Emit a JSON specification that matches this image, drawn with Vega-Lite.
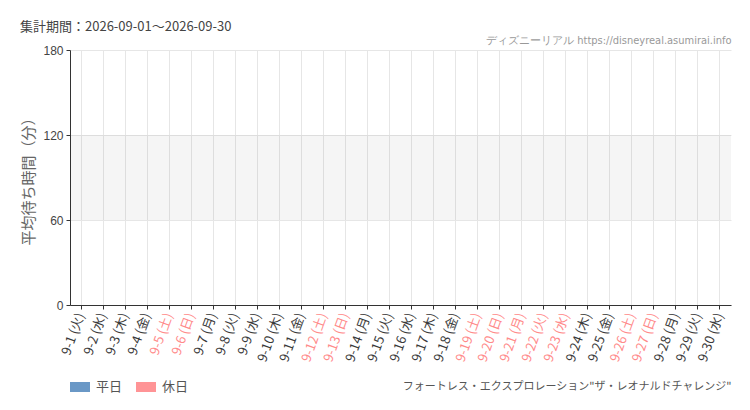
{
  "$schema": "https://vega.github.io/schema/vega-lite/v6.json",
  "width": 661,
  "height": 255,
  "autosize": "none",
  "padding": {"left": 70, "top": 50, "right": 19, "bottom": 105},
  "background": "#ffffff",
  "config": {
    "font": "Noto Sans CJK JP",
    "view": {"stroke": null}
  },
  "title": {
    "text": "集計期間：2026-09-01～2026-09-30",
    "anchor": "start",
    "frame": "group",
    "dx": -50,
    "offset": 0,
    "fontSize": 13,
    "fontWeight": "normal",
    "color": "#444444",
    "font": "Noto Sans CJK JP"
  },
  "datasets": {
    "days": [
      {"day": "9-1 (火)", "type": "平日", "wait": null},
      {"day": "9-2 (水)", "type": "平日", "wait": null},
      {"day": "9-3 (木)", "type": "平日", "wait": null},
      {"day": "9-4 (金)", "type": "平日", "wait": null},
      {"day": "9-5 (土)", "type": "休日", "wait": null},
      {"day": "9-6 (日)", "type": "休日", "wait": null},
      {"day": "9-7 (月)", "type": "平日", "wait": null},
      {"day": "9-8 (火)", "type": "平日", "wait": null},
      {"day": "9-9 (水)", "type": "平日", "wait": null},
      {"day": "9-10 (木)", "type": "平日", "wait": null},
      {"day": "9-11 (金)", "type": "平日", "wait": null},
      {"day": "9-12 (土)", "type": "休日", "wait": null},
      {"day": "9-13 (日)", "type": "休日", "wait": null},
      {"day": "9-14 (月)", "type": "平日", "wait": null},
      {"day": "9-15 (火)", "type": "平日", "wait": null},
      {"day": "9-16 (水)", "type": "平日", "wait": null},
      {"day": "9-17 (木)", "type": "平日", "wait": null},
      {"day": "9-18 (金)", "type": "平日", "wait": null},
      {"day": "9-19 (土)", "type": "休日", "wait": null},
      {"day": "9-20 (日)", "type": "休日", "wait": null},
      {"day": "9-21 (月)", "type": "休日", "wait": null},
      {"day": "9-22 (火)", "type": "休日", "wait": null},
      {"day": "9-23 (水)", "type": "休日", "wait": null},
      {"day": "9-24 (木)", "type": "平日", "wait": null},
      {"day": "9-25 (金)", "type": "平日", "wait": null},
      {"day": "9-26 (土)", "type": "休日", "wait": null},
      {"day": "9-27 (日)", "type": "休日", "wait": null},
      {"day": "9-28 (月)", "type": "平日", "wait": null},
      {"day": "9-29 (火)", "type": "平日", "wait": null},
      {"day": "9-30 (水)", "type": "平日", "wait": null}
    ],
    "band": [
      {"lo": 60, "hi": 120}
    ]
  },
  "layer": [
    {
      "data": {"name": "band"},
      "mark": {"type": "rect", "fill": "#000000", "fillOpacity": 0.04},
      "encoding": {
        "y": {"field": "lo", "type": "quantitative", "title": "平均待ち時間（分）"},
        "y2": {"field": "hi"}
      }
    },
    {
      "data": {"name": "days"},
      "mark": {"type": "bar"},
      "encoding": {
        "x": {
          "field": "day",
          "type": "nominal",
          "sort": null,
          "scale": {
            "domain": ["9-1 (火)","9-2 (水)","9-3 (木)","9-4 (金)","9-5 (土)","9-6 (日)","9-7 (月)","9-8 (火)","9-9 (水)","9-10 (木)","9-11 (金)","9-12 (土)","9-13 (日)","9-14 (月)","9-15 (火)","9-16 (水)","9-17 (木)","9-18 (金)","9-19 (土)","9-20 (日)","9-21 (月)","9-22 (火)","9-23 (水)","9-24 (木)","9-25 (金)","9-26 (土)","9-27 (日)","9-28 (月)","9-29 (火)","9-30 (水)"],
            "paddingInner": 0.3,
            "paddingOuter": 0.15
          },
          "axis": {
            "orient": "bottom",
            "title": "フォートレス・エクスプロレーション\"ザ・レオナルドチャレンジ\"",
            "titleAnchor": "end",
            "titleAlign": "right",
            "titleBaseline": "middle",
            "titleY": 81,
            "titleFontSize": 11,
            "titleFontWeight": "normal",
            "titleColor": "#555555",
            "titleFont": "Noto Sans CJK JP",
            "labelAngle": -70,
            "labelAlign": "right",
            "labelBaseline": "middle",
            "labelFontSize": 13,
            "labelPadding": 4,
            "labelFont": "Noto Sans CJK JP",
            "labelColor": {
              "condition": {"test": "test(/土|日|^9-2[123] /, datum.value)", "value": "#ff8a8a"},
              "value": "#3a3a3a"
            },
            "labelOverlap": false,
            "bandPosition": 0.5,
            "grid": true,
            "gridColor": "#e6e6e6",
            "gridWidth": 1,
            "domainColor": "#333333",
            "tickColor": "#333333",
            "tickSize": 4
          }
        },
        "y": {
          "field": "wait",
          "type": "quantitative",
          "title": "平均待ち時間（分）",
          "scale": {"domain": [0, 180], "nice": false},
          "axis": {
            "values": [0, 60, 120, 180],
            "grid": true,
            "gridColor": "#e6e6e6",
            "domainColor": "#333333",
            "tickColor": "#333333",
            "tickSize": 4,
            "labelFontSize": 12,
            "labelColor": "#444444",
            "labelFont": "Liberation Sans",
            "labelPadding": 3,
            "titleFontSize": 15,
            "titleFontWeight": "normal",
            "titleColor": "#666666",
            "titleFont": "Noto Sans CJK JP",
            "titlePadding": 6
          }
        },
        "color": {
          "field": "type",
          "type": "nominal",
          "scale": {"domain": ["平日", "休日"], "range": ["#6a98c6", "#ff9496"]},
          "legend": {
            "title": null,
            "orient": "none",
            "legendX": 0,
            "legendY": 327,
            "direction": "horizontal",
            "symbolType": "M-1,-0.5H1V0.5H-1Z",
            "symbolSize": 400,
            "symbolStrokeWidth": 0,
            "symbolOpacity": 1,
            "labelFontSize": 13,
            "labelColor": "#555555",
            "labelFont": "Noto Sans CJK JP",
            "labelOffset": 6,
            "columnPadding": 13
          }
        }
      }
    },
    {
      "data": {"name": "days"},
      "mark": {"type": "point", "opacity": 0},
      "encoding": {
        "x": {
          "field": "day",
          "type": "nominal",
          "sort": null,
          "axis": {
            "orient": "top",
            "title": "ディズニーリアル https://disneyreal.asumirai.info",
            "titleAnchor": "end",
            "titleAlign": "right",
            "titleFontSize": 11,
            "titleFontWeight": "normal",
            "titleColor": "#999999",
            "titleFont": "DejaVu Sans Condensed",
            "titlePadding": 5,
            "labels": false,
            "ticks": false,
            "domain": false,
            "grid": false
          }
        },
        "y": {"field": "wait", "type": "quantitative"}
      }
    }
  ],
  "resolve": {"axis": {"x": "independent"}}
}
